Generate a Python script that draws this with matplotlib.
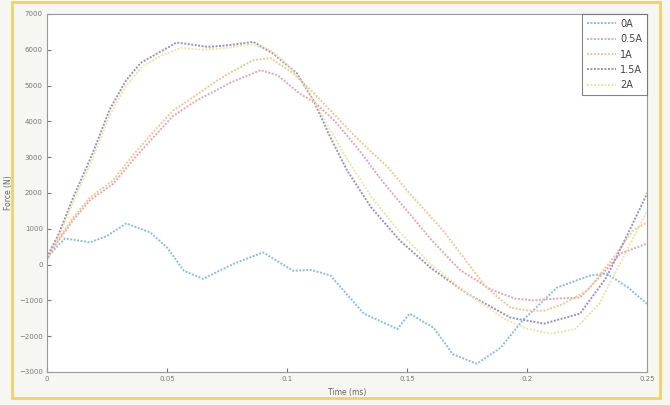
import numpy as np
import matplotlib.pyplot as plt
from matplotlib.patches import Rectangle

# Force vs time at different currents
t_0a = [0, .0075, .018, .025, .033, .043, .05, .057, .065, .078, .09, .1025, .11, .118,
        .132, .146, .151, .161, .169, .179, .189, .198, .2125, .226, .233, .242, .25]
f_0a = [200, 730, 620, 800, 1150, 900, 480, -170, -400, 30, 340, -170, -150, -300,
        -1370, -1800, -1370, -1760, -2500, -2770, -2320, -1570, -640, -310, -250, -640, -1100]

t_05a = [0, .0025, .011, .018, .0275, .0375, .045, .0525, .0625, .07, .076, .089, .096, .105,
         .112, .12, .13, .14, .15, .16, .172, .185, .195, .2025, .212, .222, .23, .239, .25]
f_05a = [100, 450, 1250, 1800, 2250, 3050, 3600, 4150, 4590, 4850, 5070, 5430, 5290, 4790,
         4500, 4000, 3200, 2300, 1500, 700, -150, -700, -950, -1000, -950, -920, -360, 310, 590]

t_1a = [0, .0025, .011, .018, .0275, .0375, .045, .0525, .0625, .07, .076, .086, .093, .1025,
        .11, .118, .13, .142, .151, .165, .183, .193, .2, .207, .215, .225, .236, .244, .25]
f_1a = [150, 480, 1320, 1880, 2350, 3190, 3750, 4300, 4750, 5100, 5350, 5710, 5770, 5350,
        4870, 4310, 3470, 2720, 1990, 950, -640, -1200, -1280, -1290, -1100, -730, 200, 950, 1180]

t_15a = [0, .005, .011, .019, .026, .033, .039, .046, .054, .06, .067, .076, .086, .094,
         .104, .111, .118, .125, .135, .147, .16, .175, .193, .207, .222, .233, .242, .25]
f_15a = [200, 870, 1880, 3100, 4310, 5150, 5630, 5900, 6200, 6150, 6080, 6130, 6220, 5900,
         5350, 4590, 3560, 2630, 1600, 670, -100, -810, -1480, -1650, -1370, -360, 870, 1990]

t_2a = [0, .005, .011, .019, .026, .033, .04, .048, .056, .065, .075, .085, .093, .1,
        .108, .116, .125, .135, .147, .16, .175, .19, .2, .21, .22, .23, .24, .25]
f_2a = [150, 800, 1750, 2950, 4150, 5000, 5550, 5850, 6050, 6000, 6050, 6150, 6000, 5600,
        4950, 4000, 2950, 1900, 900, 0, -800, -1500, -1800, -1930, -1800, -1100, 200, 1500]

labels = ['0A', '0.5A', '1A', '1.5A', '2A']
colors = ['#86bfe4', '#e8a6b2', '#f0c998', '#9a90bc', '#f1e3a6']
series = [(t_0a, f_0a), (t_05a, f_05a), (t_1a, f_1a), (t_15a, f_15a), (t_2a, f_2a)]

fig = plt.figure(figsize=(6.7, 4.05), dpi=100, facecolor='#f6f6f3')
ax = fig.add_axes([0.070, 0.0815, 0.896, 0.884])
ax.set_facecolor('white')

for (t, f), c, lab in zip(series, colors, labels):
    ax.plot(t, f, color=c, lw=1.4, ls=(0, (1, 0.8)), label=lab)

ax.set_xlim(0, 0.25)
ax.set_ylim(-3000, 7000)
ax.set_xticks([0, 0.05, 0.1, 0.15, 0.2, 0.25])
ax.set_xticklabels(['0', '0.05', '0.1', '0.15', '0.2', '0.25'])
ax.set_yticks(np.arange(-3000, 7001, 1000))
ax.tick_params(direction='in', length=3, labelsize=5, colors='#777777', pad=3)
for s in ax.spines.values():
    s.set_color('#999999')
    s.set_linewidth(0.8)

ax.set_xlabel('Time (ms)', fontsize=5.5, color='#666666', labelpad=4)
ax.set_ylabel('Force (N)', fontsize=5.5, color='#666666', labelpad=4)

leg = ax.legend(loc='upper right', bbox_to_anchor=(1, 1), borderaxespad=0,
                fontsize=7, frameon=True, fancybox=False, handlelength=3,
                labelspacing=0.55, handletextpad=0.4, borderpad=0.5)
leg.get_frame().set_edgecolor('#666666')
leg.get_frame().set_linewidth(0.8)
for txt in leg.get_texts():
    txt.set_color('#444444')

# yellow border of the scanned page
fig.patches.append(Rectangle((0.018, 0.017), 0.967, 0.978, transform=fig.transFigure,
                             fill=False, edgecolor='#f0d462', lw=2))

fig.savefig('out.png', dpi=100, facecolor=fig.get_facecolor())
